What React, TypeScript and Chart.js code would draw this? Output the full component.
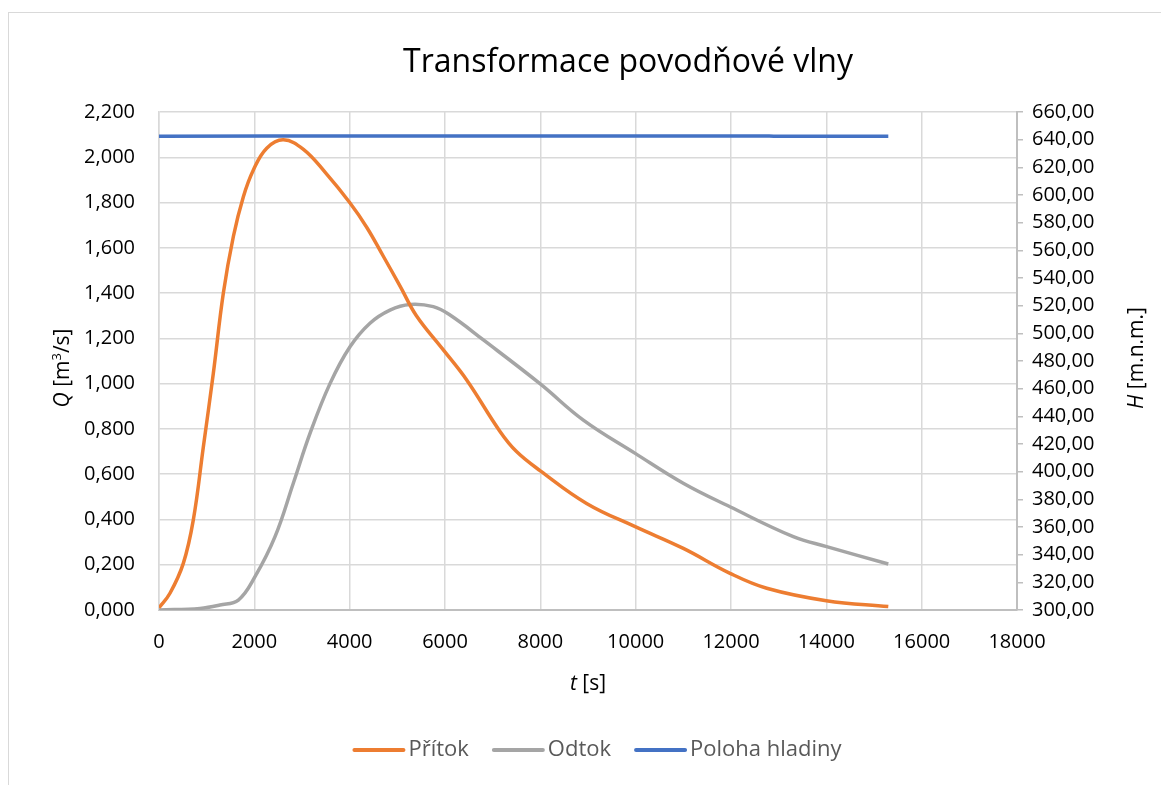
import React, { useEffect, useRef } from "react";
import { Chart, registerables } from "chart.js";

Chart.register(...registerables);

// ---- data ----
const tPritok = [0, 230, 510, 720, 930, 1140, 1350, 1560, 1770, 1980, 2260, 2610, 3030, 3500, 4000, 4360, 4700, 5060, 5400, 5965, 6455, 7150, 7500, 8000, 8970, 9990, 11000, 11980, 12750, 14000, 15300];
const qPritok = [0.01, 0.074, 0.206, 0.398, 0.72, 1.046, 1.4, 1.65, 1.826, 1.944, 2.04, 2.077, 2.035, 1.93, 1.8, 1.69, 1.565, 1.43, 1.3, 1.149, 1.016, 0.79, 0.70, 0.615, 0.471, 0.368, 0.272, 0.162, 0.096, 0.041, 0.015];

const tOdtok = [0, 860, 1280, 1665, 2014, 2434, 2818, 3168, 3587, 4007, 4426, 4846, 5265, 5755, 6105, 6805, 7992, 8902, 9990, 10998, 11978, 13307, 14006, 15300];
const qOdtok = [0.0, 0.007, 0.022, 0.044, 0.147, 0.324, 0.56, 0.78, 1.0, 1.163, 1.267, 1.325, 1.35, 1.34, 1.303, 1.193, 1.0, 0.839, 0.692, 0.56, 0.456, 0.324, 0.28, 0.203];

const tHladina = [0, 2400, 12800, 12900, 15300];
const hHladina = [642.4, 642.6, 642.6, 642.4, 642.4];

const seriesNames = ["Přítok", "Odtok", "Poloha hladiny"];
const seriesColors = ["#ED7D31", "#A5A5A5", "#4472C4"];

const chartTitle = "Transformace povodňové vlny";
const xTickValues = [0, 2000, 4000, 6000, 8000, 10000, 12000, 14000, 16000, 18000];
const qTickValues = [0, 0.2, 0.4, 0.6, 0.8, 1.0, 1.2, 1.4, 1.6, 1.8, 2.0, 2.2];
const hTickValues = [300, 320, 340, 360, 380, 400, 420, 440, 460, 480, 500, 520, 540, 560, 580, 600, 620, 640, 660];

const FONT = '"Open Sans"';
const W = 1153;
const H = 777;

type Seg = { text: string; italic?: boolean; sup?: boolean };

function drawRich(ctx: CanvasRenderingContext2D, segs: Seg[], x: number, y: number, rotate: boolean, size: number, color: string) {
  ctx.save();
  ctx.translate(x, y);
  if (rotate) ctx.rotate(-Math.PI / 2);
  ctx.fillStyle = color;
  ctx.textBaseline = "alphabetic";
  ctx.textAlign = "left";
  const fontOf = (s: Seg) => `${s.italic ? "italic " : ""}${s.sup ? Math.round(size * 0.62) : size}px ${FONT}`;
  let total = 0;
  const widths = segs.map((s) => {
    ctx.font = fontOf(s);
    const w = ctx.measureText(s.text).width;
    total += w;
    return w;
  });
  let cx = -total / 2;
  const base = size * 0.35;
  segs.forEach((s, i) => {
    ctx.font = fontOf(s);
    ctx.fillText(s.text, cx, s.sup ? base - size * 0.38 : base);
    cx += widths[i];
  });
  ctx.restore();
}

const textPlugin = {
  id: "excelText",
  afterDraw(chart: any) {
    const ctx: CanvasRenderingContext2D = chart.ctx;
    const a = chart.chartArea;
    const midY = (a.top + a.bottom) / 2;
    // title
    ctx.save();
    ctx.font = `32px ${FONT}`;
    ctx.fillStyle = "#000000";
    ctx.textAlign = "center";
    ctx.textBaseline = "alphabetic";
    ctx.fillText(chartTitle, 620, 64);
    ctx.restore();
    // axis titles
    drawRich(ctx, [{ text: "t", italic: true }, { text: " [s]" }], (a.left + a.right) / 2, 675, false, 21, "#000000");
    drawRich(ctx, [{ text: "Q", italic: true }, { text: " [m" }, { text: "3", sup: true }, { text: "/s]" }], 54, midY + 7, true, 21, "#000000");
    drawRich(ctx, [{ text: "H", italic: true }, { text: " [m.n.m.]" }], 1128, midY - 3, true, 21, "#000000");
    // legend
    ctx.save();
    const lsize = 22;
    ctx.font = `${lsize}px ${FONT}`;
    const lineLen = 53;
    const gapText = 3;
    const gapItem = 23;
    const items = chart.data.datasets.map((d: any) => ({ label: d.label, color: d.borderColor, w: ctx.measureText(d.label).width }));
    const total = items.reduce((s: number, it: any) => s + lineLen + gapText + it.w, 0) + gapItem * (items.length - 1);
    let x = 589 - total / 2;
    const ly = 742;
    items.forEach((it: any) => {
      ctx.strokeStyle = it.color;
      ctx.lineWidth = 4;
      ctx.lineCap = "round";
      ctx.beginPath();
      ctx.moveTo(x + 2, ly);
      ctx.lineTo(x + lineLen - 2, ly);
      ctx.stroke();
      ctx.fillStyle = "#595959";
      ctx.textBaseline = "middle";
      ctx.textAlign = "left";
      ctx.fillText(it.label, x + lineLen + gapText, ly);
      x += lineLen + gapText + it.w + gapItem;
    });
    ctx.restore();
  },
};

function fmtComma(v: number, d: number) {
  return v.toFixed(d).replace(".", ",");
}

export default function App() {
  const ref = useRef<HTMLCanvasElement | null>(null);
  useEffect(() => {
    let chart: Chart | null = null;
    let cancelled = false;
    document.documentElement.style.overflow = "hidden";
    const make = () => {
      if (cancelled || !ref.current) return;
      Chart.defaults.font.family = FONT;
      chart = new Chart(ref.current, {
        type: "line",
        data: {
          datasets: [
            {
              label: seriesNames[0],
              data: tPritok.map((t, i) => ({ x: t, y: qPritok[i] })),
              borderColor: seriesColors[0],
              backgroundColor: seriesColors[0],
              borderWidth: 3.5,
              pointRadius: 0,
              tension: 0.4,
              yAxisID: "y",
            },
            {
              label: seriesNames[1],
              data: tOdtok.map((t, i) => ({ x: t, y: qOdtok[i] })),
              borderColor: seriesColors[1],
              backgroundColor: seriesColors[1],
              borderWidth: 3.5,
              pointRadius: 0,
              tension: 0.4,
              yAxisID: "y",
            },
            {
              label: seriesNames[2],
              data: tHladina.map((t, i) => ({ x: t, y: hHladina[i] })),
              borderColor: seriesColors[2],
              backgroundColor: seriesColors[2],
              borderWidth: 3.5,
              pointRadius: 0,
              tension: 0,
              yAxisID: "y1",
            },
          ],
        },
        options: {
          responsive: false,
          animation: false,
          layout: { padding: { top: 104, left: 0, right: 0, bottom: 0 } },
          plugins: { legend: { display: false }, title: { display: false }, tooltip: { enabled: false } },
          scales: {
            x: {
              type: "linear",
              min: xTickValues[0],
              max: xTickValues[xTickValues.length - 1],
              afterBuildTicks: (s: any) => { s.ticks = xTickValues.map((v) => ({ value: v })); },
              afterFit: (s: any) => { s.height = H - 602; },
              ticks: { autoSkip: false, maxRotation: 0, padding: 20, color: "#000000", font: { size: 20 }, callback: (v: any) => String(v) },
              grid: { color: "#d9d9d9", lineWidth: 1.5, drawTicks: false },
              border: { color: "#bfbfbf", width: 2 },
            },
            y: {
              type: "linear",
              position: "left",
              min: qTickValues[0],
              max: qTickValues[qTickValues.length - 1],
              afterBuildTicks: (s: any) => { s.ticks = qTickValues.map((v) => ({ value: v })); },
              afterFit: (s: any) => { s.width = 151; },
              ticks: { autoSkip: false, padding: 24, color: "#000000", font: { size: 20 }, callback: (v: any) => fmtComma(Number(v), 3) },
              grid: { color: "#d9d9d9", lineWidth: 1.5, drawTicks: false },
              border: { color: "#d9d9d9", width: 1.5 },
            },
            y1: {
              type: "linear",
              position: "right",
              min: hTickValues[0],
              max: hTickValues[hTickValues.length - 1],
              afterBuildTicks: (s: any) => { s.ticks = hTickValues.map((v) => ({ value: v })); },
              afterFit: (s: any) => { s.width = W - 1009; },
              ticks: { autoSkip: false, padding: 9, color: "#000000", font: { size: 20 }, callback: (v: any) => fmtComma(Number(v), 2) },
              grid: { drawOnChartArea: false, drawTicks: true, tickLength: 6, color: "#bfbfbf", lineWidth: 1.5 },
              border: { color: "#bfbfbf", width: 2 },
            },
          },
        } as any,
        plugins: [textPlugin],
      });
    };
    const fontsReady = (document as any).fonts
      ? Promise.all([
          (document as any).fonts.load(`20px ${FONT}`),
          (document as any).fonts.load(`italic 20px ${FONT}`),
        ]).catch(() => null)
      : Promise.resolve(null);
    fontsReady.then(make);
    return () => {
      cancelled = true;
      if (chart) chart.destroy();
    };
  }, []);

  return (
    <div style={{ position: "relative", width: W, height: H, overflow: "hidden" }}>
      <div
        style={{
          position: "absolute",
          left: 0,
          top: 4,
          width: W + 40,
          height: H + 40,
          border: "1px solid #d9d9d9",
          boxSizing: "border-box",
        }}
      />
      <canvas ref={ref} width={W} height={H} style={{ position: "absolute", left: 0, top: 0, width: W, height: H }} />
    </div>
  );
}
